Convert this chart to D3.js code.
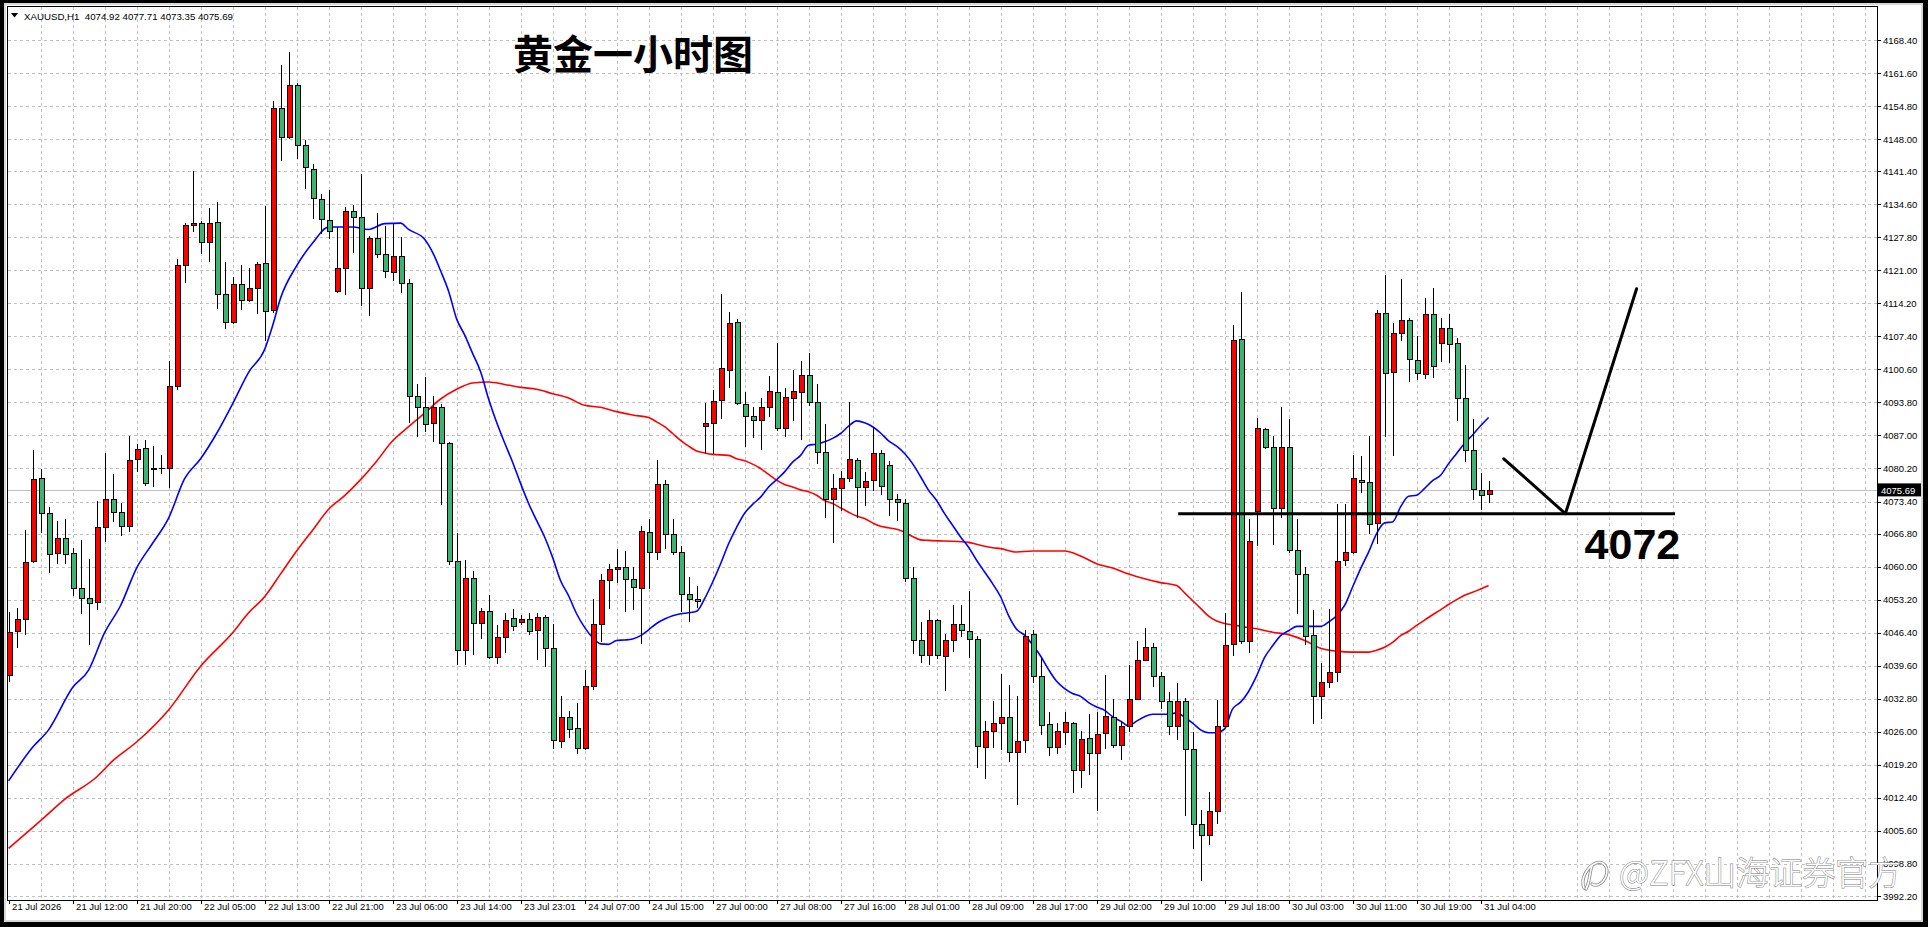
<!DOCTYPE html>
<html><head><meta charset="utf-8">
<script src="https://cdn.jsdelivr.net/npm/d3@7/dist/d3.min.js"></script>
<style>html,body{margin:0;padding:0;background:#000;overflow:hidden}</style>
</head><body>
<svg id="c" width="1928" height="927"></svg>
<script>
// ---------- DATA ----------
const symbolInfo = "XAUUSD,H1  4074.92 4077.71 4073.35 4075.69";
const title = "黄金一小时图";
const opens = [
4037.7,4046.7,4049.2,4061.1,4078.2,4071.0,4062.9,4065.8,4062.9,4055.6,
4053.5,4052.7,4068.2,4073.9,4071.3,4068.3,4082.2,4084.4,4080.0,4080.4,
4080.4,4097.2,4122.0,4130.3,4130.8,4126.9,4130.9,4116.2,4110.4,4118.2,
4114.8,4117.4,4122.4,4112.9,4154.3,4148.4,4159.2,4146.7,4141.9,4135.6,
4131.4,4116.7,4121.4,4133.3,4131.9,4117.4,4127.7,4124.4,4120.7,4123.9,
4118.4,4095.2,4092.9,4089.6,4092.9,4085.4,4061.2,4042.9,4057.6,4048.3,
4050.9,4041.3,4045.6,4049.4,4048.5,4049.2,4047.0,4049.6,4043.2,4024.1,
4029.1,4026.7,4022.6,4035.4,4048.2,4057.3,4059.5,4060.0,4057.4,4055.6,
4067.2,4063.0,4077.1,4066.8,4063.0,4054.3,4053.4,4089.0,4089.5,4094.3,
4100.5,4110.3,4093.4,4091.1,4090.1,4092.9,4095.9,4088.6,4094.8,4095.9,
4099.4,4093.8,4083.5,4074.0,4076.1,4078.3,4082.0,4076.4,4077.9,4083.3,
4081.0,4074.0,4073.0,4057.7,4044.9,4041.8,4049.0,4041.6,4044.9,4048.1,
4046.8,4045.1,4022.9,4026.1,4027.8,4029.0,4021.9,4024.4,4046.1,4037.4,
4027.7,4022.8,4026.0,4027.9,4018.1,4024.8,4021.6,4025.7,4029.1,4023.3,
4027.2,4032.8,4040.8,4043.5,4037.5,4032.4,4027.2,4032.4,4022.4,4007.1,
4004.7,4009.7,4027.2,4044.1,4106.8,4044.6,4071.5,4088.3,4084.6,4072.0,
4084.6,4063.5,4058.5,4045.9,4033.4,4036.2,4038.4,4061.4,4063.0,4077.9,
4077.5,4069.0,4112.2,4100.0,4108.1,4110.8,4102.5,4099.6,4112.0,4106.0,
4109.1,4106.0,4094.7,4084.1,4075.7,4074.92];
const highs = [
4050.7,4051.5,4067.6,4084.1,4080.0,4072.3,4069.4,4069.8,4063.8,4065.5,
4061.6,4073.5,4083.3,4079.0,4073.0,4086.8,4085.3,4086.1,4084.8,4082.9,
4102.4,4123.4,4130.8,4141.4,4131.2,4133.8,4135.1,4122.8,4119.7,4122.0,
4121.5,4122.8,4134.2,4155.9,4163.3,4166.0,4159.5,4147.9,4142.9,4136.8,
4137.5,4129.9,4134.0,4134.5,4140.8,4128.0,4132.7,4130.2,4130.6,4127.9,
4119.2,4097.5,4099.0,4095.1,4093.5,4085.7,4067.0,4061.3,4059.0,4051.4,
4054.1,4047.9,4050.5,4051.2,4050.1,4050.4,4050.5,4050.1,4048.1,4033.4,
4030.2,4031.9,4038.8,4053.4,4058.4,4060.6,4063.7,4063.2,4060.0,4068.4,
4069.9,4081.9,4077.9,4069.7,4064.3,4057.8,4056.1,4093.6,4096.3,4116.1,
4112.4,4110.9,4095.9,4092.9,4094.8,4099.2,4106.1,4096.7,4100.5,4102.3,
4104.0,4097.6,4089.3,4079.0,4079.7,4093.9,4082.4,4079.4,4088.8,4084.0,
4081.7,4074.9,4074.0,4060.0,4048.7,4051.0,4049.2,4046.1,4052.2,4052.2,
4054.9,4045.8,4028.3,4032.3,4037.9,4035.7,4033.3,4046.9,4046.9,4041.2,
4030.1,4027.8,4030.1,4028.0,4026.2,4029.6,4030.1,4037.6,4032.7,4028.2,
4039.8,4044.6,4047.3,4044.2,4038.3,4034.1,4036.1,4032.9,4026.0,4009.9,
4013.6,4032.5,4050.4,4109.7,4116.5,4069.9,4090.6,4088.5,4086.8,4092.9,
4090.4,4069.9,4059.9,4051.1,4040.2,4051.2,4072.8,4072.8,4083.0,4082.8,
4086.8,4112.8,4120.1,4110.2,4119.3,4111.2,4107.5,4115.3,4117.4,4111.2,
4111.9,4107.1,4101.6,4090.3,4079.2,4077.71];
const lows = [
4036.4,4043.5,4046.1,4061.0,4067.2,4058.9,4060.7,4060.7,4054.1,4050.5,
4044.0,4051.2,4065.2,4069.4,4066.5,4067.3,4079.7,4076.9,4076.5,4079.2,
4076.3,4096.6,4118.6,4129.0,4124.5,4122.9,4113.2,4109.1,4110.2,4113.0,
4114.6,4112.3,4106.6,4112.4,4143.8,4148.2,4144.1,4138.0,4131.7,4128.7,
4127.7,4116.6,4116.2,4124.7,4113.8,4111.7,4123.8,4119.7,4119.0,4116.6,
4089.7,4086.9,4088.0,4085.9,4072.9,4060.6,4039.9,4039.9,4042.0,4045.3,
4041.2,4040.1,4042.4,4047.0,4048.2,4046.1,4040.9,4039.6,4022.6,4022.8,
4025.0,4021.6,4022.5,4034.8,4044.6,4051.5,4056.8,4050.9,4051.2,4044.2,
4055.6,4061.5,4063.9,4062.6,4050.8,4048.9,4051.6,4083.6,4083.4,4090.5,
4096.9,4093.5,4084.8,4086.7,4084.2,4091.0,4088.2,4086.9,4090.1,4086.3,
4093.2,4081.3,4070.2,4065.0,4071.7,4077.6,4070.3,4072.6,4075.8,4075.0,
4070.6,4069.5,4057.1,4042.2,4040.3,4040.0,4041.2,4034.6,4042.6,4045.8,
4041.3,4018.8,4016.4,4022.8,4022.4,4020.0,4011.2,4021.9,4036.3,4025.6,
4021.2,4021.6,4023.4,4013.6,4014.6,4017.4,4009.9,4022.7,4022.9,4020.3,
4026.2,4032.7,4040.7,4035.4,4030.9,4025.6,4024.6,4008.9,4002.0,3995.5,
4003.0,4007.3,4027.1,4041.8,4044.2,4042.5,4064.4,4084.4,4064.6,4070.2,
4063.0,4050.4,4044.1,4027.9,4028.9,4035.3,4036.4,4060.3,4062.9,4075.4,
4066.9,4064.9,4086.9,4083.0,4106.6,4098.3,4098.7,4098.8,4099.0,4102.4,
4102.2,4090.2,4081.8,4074.0,4071.8,4073.35];
const closes = [
4046.6,4049.2,4060.9,4078.0,4071.1,4062.7,4065.8,4062.6,4055.6,4053.6,
4052.6,4068.2,4073.9,4071.3,4068.3,4081.9,4084.2,4077.3,4080.4,4080.3,
4097.2,4122.0,4130.4,4130.7,4126.9,4130.8,4116.2,4110.4,4118.2,4114.9,
4117.4,4122.3,4112.6,4154.3,4148.4,4159.1,4146.7,4142.2,4135.9,4131.5,
4129.1,4121.4,4133.1,4132.0,4117.4,4127.7,4124.4,4120.9,4123.9,4118.4,
4095.1,4092.9,4089.4,4092.8,4085.4,4061.1,4042.8,4057.6,4048.3,4050.9,
4041.3,4045.6,4049.1,4047.7,4049.2,4046.7,4049.6,4043.2,4024.3,4029.1,
4026.5,4022.6,4035.4,4048.2,4057.3,4059.5,4060.0,4057.4,4055.8,4067.4,
4063.0,4077.1,4066.8,4063.0,4054.3,4053.4,4052.9,4089.5,4094.1,4100.8,
4110.1,4093.6,4091.0,4090.1,4092.8,4096.1,4088.6,4095.0,4096.1,4099.4,
4093.8,4083.5,4074.0,4076.1,4078.3,4082.2,4076.3,4077.7,4083.3,4076.5,
4074.0,4073.2,4057.6,4044.9,4041.8,4049.0,4041.8,4044.9,4048.1,4047.0,
4045.1,4023.0,4026.1,4027.8,4029.0,4021.9,4024.2,4045.7,4037.4,4027.5,
4022.8,4026.2,4028.1,4018.1,4024.6,4021.6,4025.6,4029.3,4023.3,4027.1,
4032.8,4040.8,4043.5,4037.4,4032.3,4027.2,4032.4,4022.4,4007.1,4004.7,
4009.7,4027.2,4043.9,4106.6,4044.6,4065.2,4088.5,4084.6,4072.0,4084.6,
4063.5,4058.5,4045.8,4033.4,4036.2,4038.4,4061.2,4063.0,4078.2,4077.5,
4068.7,4112.2,4099.8,4108.1,4110.8,4102.7,4099.8,4112.0,4101.2,4109.1,
4105.8,4094.7,4084.1,4075.9,4074.8,4075.69];

// moving averages: [bar index, price]
const maFast = [[0,4015.9],[3,4022.8],[5,4026.4],[8,4035.1],[10,4038.7],[12,4046.4],[14,4052.0],[16,4059.7],[18,4064.8],[20,4070.0],[22,4078.1],[24,4082.2],[26,4087.4],[28,4093.5],[30,4100.0],[32,4104.7],[33,4109.6],[34,4115.3],[36,4121.9],[38,4126.6],[40,4129.9],[43,4129.9],[45,4129.4],[47,4130.6],[49,4130.7],[50,4129.4],[52,4127.4],[53,4124.7],[54,4120.9],[55,4116.7],[56,4111.0],[57,4107.7],[58,4103.9],[59,4100.1],[60,4094.5],[61,4089.7],[62,4085.5],[63,4081.5],[64,4077.1],[65,4073.0],[66,4069.5],[67,4066.1],[68,4061.9],[69,4057.1],[70,4054.0],[71,4050.3],[72,4047.5],[73,4045.4],[74,4044.1],[75,4044.0],[76,4044.8],[77,4044.9],[78,4045.1],[79,4045.8],[80,4047.0],[81,4048.3],[82,4049.2],[83,4049.9],[84,4050.3],[85,4050.5],[86,4050.8],[87,4053.4],[88,4056.8],[89,4060.6],[90,4064.7],[91,4068.1],[92,4071.0],[93,4072.8],[94,4074.3],[95,4076.4],[96,4077.9],[97,4079.5],[98,4081.5],[99,4082.9],[100,4085.0],[101,4085.2],[102,4085.7],[103,4086.4],[104,4087.4],[105,4088.9],[106,4090.0],[107,4089.6],[108,4088.8],[109,4087.5],[110,4085.9],[111,4084.8],[112,4083.3],[113,4081.2],[114,4078.5],[115,4075.7],[116,4073.6],[117,4070.9],[118,4068.5],[119,4066.1],[120,4064.0],[121,4061.3],[122,4058.9],[123,4056.5],[124,4053.8],[125,4049.9],[126,4047.1],[127,4045.9],[128,4043.9],[129,4041.6],[130,4038.8],[131,4036.4],[132,4034.9],[133,4033.9],[134,4033.3],[135,4032.0],[136,4031.1],[137,4030.4],[138,4029.1],[139,4028.2],[140,4027.2],[141,4028.2],[142,4029.1],[143,4029.6],[145,4029.6],[146,4029.9],[147,4029.0],[148,4027.8],[149,4026.4],[150,4025.8],[151,4025.8],[152,4026.6],[153,4030.7],[154,4032.1],[155,4034.3],[156,4037.5],[157,4041.3],[158,4043.7],[159,4045.8],[160,4046.8],[161,4047.7],[164,4047.7],[165,4048.6],[166,4049.9],[167,4052.0],[168,4055.8],[169,4059.6],[170,4063.0],[171,4066.8],[172,4069.0],[173,4069.2],[174,4072.3],[175,4074.5],[176,4074.7],[177,4076.1],[178,4077.7],[179,4078.8],[180,4081.2],[181,4083.3],[182,4085.4],[183,4087.1],[184,4089.0],[185,4090.7]];
const maSlow = [[0,4002.0],[4,4007.7],[7,4012.1],[11,4016.7],[13,4020.0],[16,4023.9],[20,4030.5],[24,4039.5],[28,4046.4],[30,4050.5],[32,4053.8],[34,4058.5],[36,4063.2],[38,4067.5],[40,4071.8],[42,4074.6],[44,4077.9],[46,4081.7],[48,4085.9],[50,4088.8],[52,4091.6],[54,4094.5],[56,4096.5],[58,4097.8],[60,4098.0],[62,4097.5],[64,4096.9],[66,4096.5],[68,4095.6],[70,4094.7],[72,4093.2],[74,4092.8],[76,4091.9],[78,4091.2],[80,4090.7],[81,4089.8],[82,4088.8],[83,4087.4],[84,4086.0],[85,4084.8],[86,4083.8],[87,4083.4],[88,4083.1],[90,4082.9],[91,4082.2],[92,4081.8],[93,4081.1],[94,4080.2],[95,4079.0],[96,4077.8],[97,4076.9],[98,4076.4],[99,4075.8],[100,4075.4],[101,4074.7],[102,4073.6],[103,4073.0],[104,4072.1],[105,4071.2],[106,4070.4],[107,4069.9],[108,4069.0],[109,4068.3],[110,4068.0],[111,4067.7],[112,4067.1],[113,4066.2],[114,4065.5],[115,4065.4],[120,4065.0],[121,4064.6],[122,4064.2],[123,4063.9],[124,4063.7],[126,4063.0],[128,4063.2],[132,4063.2],[134,4062.2],[136,4060.6],[138,4059.7],[140,4058.5],[142,4057.5],[144,4056.7],[146,4056.1],[147,4054.6],[148,4053.0],[149,4051.4],[150,4049.8],[151,4048.8],[152,4048.3],[153,4048.0],[154,4047.7],[156,4047.2],[158,4046.5],[160,4046.0],[162,4044.8],[164,4043.2],[166,4042.6],[168,4042.4],[170,4042.4],[171,4042.8],[172,4043.4],[173,4044.4],[174,4045.8],[175,4046.7],[176,4047.9],[177,4049.0],[178,4050.1],[179,4051.1],[180,4052.2],[181,4053.2],[182,4054.1],[183,4054.7],[184,4055.4],[185,4056.1]];

const priceTicks = ["4168.40","4161.60","4154.80","4148.00","4141.40","4134.60","4127.80","4121.00","4114.20","4107.40","4100.60","4093.80","4087.00","4080.20","4073.40","4066.80","4060.00","4053.20","4046.40","4039.60","4032.80","4026.00","4019.20","4012.40","4005.60","3998.80","3992.20"];
const timeTickIdx = [0,8,16,24,32,40,48,56,64,72,80,88,96,104,112,120,128,136,144,152,160,168,176,184];
const timeTickLabels = ["21 Jul 2026","21 Jul 12:00","21 Jul 20:00","22 Jul 05:00","22 Jul 13:00","22 Jul 21:00","23 Jul 06:00","23 Jul 14:00","23 Jul 23:01","24 Jul 07:00","24 Jul 15:00","27 Jul 00:00","27 Jul 08:00","27 Jul 16:00","28 Jul 01:00","28 Jul 09:00","28 Jul 17:00","29 Jul 02:00","29 Jul 10:00","29 Jul 18:00","30 Jul 03:00","30 Jul 11:00","30 Jul 19:00","31 Jul 04:00"];
const lastPrice = 4075.69;
// hand-drawn annotations (bar index, price)
const supportLine = [[146.2,4070.9],[208.3,4070.9]];
const pathArrow = [[186.9,4082.2],[194.6,4070.9],[203.5,4117.2]];
const supportLabel = {text:"4072", idx:197.0, price:4061.6};
const watermark = "@ZFX山海证券官方";

// ---------- LAYOUT ----------
const W = 1928, H = 927;
const plot = {l:7.5, t:6.5, r:1877, b:900};
const svg = d3.select("#c");
const x = d3.scaleLinear().domain([0, 233.5]).range([8.6, 1876.6]);
const y = d3.scaleLinear().domain([4168.4, 3992.2]).range([40, 896]);
const cx = i => Math.round(x(i)) + 0.5;
const cy = p => Math.round(y(p)) + 0.5;

// window frame
svg.append("rect").attr("width",W).attr("height",H).attr("fill","#000");
svg.append("rect").attr("x",4).attr("y",3).attr("width",1919).attr("height",919).attr("fill","#d8d8d8");
svg.append("rect").attr("x",6).attr("y",5).attr("width",1915).attr("height",915).attr("fill","#fff");

const clip = svg.append("defs").append("clipPath").attr("id","pc");
clip.append("rect").attr("x",plot.l).attr("y",plot.t).attr("width",plot.r-plot.l).attr("height",plot.b-plot.t);

const g = svg.append("g").attr("clip-path","url(#pc)");

// grid
const vIdx = d3.range(4, 234, 4);
g.append("g").selectAll("line").data(vIdx).join("line")
  .attr("x1",d=>cx(d)).attr("x2",d=>cx(d)).attr("y1",plot.t).attr("y2",plot.b)
  .attr("stroke","#c0c0c0").attr("stroke-dasharray","3,3").attr("shape-rendering","crispEdges");
g.append("g").selectAll("line").data(priceTicks).join("line")
  .attr("x1",plot.l).attr("x2",plot.r).attr("y1",d=>cy(+d)).attr("y2",d=>cy(+d))
  .attr("stroke","#c0c0c0").attr("stroke-dasharray","3,3").attr("shape-rendering","crispEdges");

// last price line
g.append("line").attr("x1",plot.l).attr("x2",plot.r).attr("y1",cy(lastPrice)).attr("y2",cy(lastPrice))
  .attr("stroke","#c0c0c0").attr("shape-rendering","crispEdges");

// moving averages
const line = d3.line().x(d=>x(d[0])).y(d=>y(d[1])).curve(d3.curveMonotoneX);
g.append("path").datum(maSlow).attr("d",line).attr("fill","none").attr("stroke","#ff0000").attr("stroke-width",1.6);
g.append("path").datum(maFast).attr("d",line).attr("fill","none").attr("stroke","#0000ff").attr("stroke-width",1.6);

// candles
const bars = d3.range(opens.length).map(i=>({i,o:opens[i],h:highs[i],l:lows[i],c:closes[i]}));
const cg = g.append("g").attr("shape-rendering","crispEdges");
cg.selectAll("line.w").data(bars).join("line").attr("class","w")
  .attr("x1",d=>cx(d.i)).attr("x2",d=>cx(d.i))
  .attr("y1",d=>Math.round(y(d.h))).attr("y2",d=>Math.round(y(d.l))+1)
  .attr("stroke","#000");
cg.selectAll("rect.b").data(bars).join("rect").attr("class","b")
  .attr("x",d=>cx(d.i)-2.5)
  .attr("width",5)
  .attr("y",d=>Math.round(y(Math.max(d.o,d.c)))+0.5)
  .attr("height",d=>Math.max(0.01, Math.round(y(Math.min(d.o,d.c))) - Math.round(y(Math.max(d.o,d.c)))))
  .attr("fill",d=>d.c>d.o?"#ff0000":(d.c<d.o?"#3cb371":"#000"))
  .attr("stroke","#000").attr("stroke-width",1);

// hand-drawn annotations
g.append("path").datum(supportLine).attr("d",d3.line().x(d=>x(d[0])).y(d=>y(d[1])))
  .attr("stroke","#000").attr("stroke-width",3).attr("fill","none");
g.append("path").datum(pathArrow).attr("d",d3.line().x(d=>x(d[0])).y(d=>y(d[1])))
  .attr("stroke","#000").attr("stroke-width",3).attr("fill","none").attr("stroke-linecap","round").attr("stroke-linejoin","round");
g.append("text").attr("x",x(supportLabel.idx)).attr("y",y(supportLabel.price))
  .attr("font-family","Liberation Sans, Arial, sans-serif").attr("font-weight","bold").attr("font-size",43)
  .attr("fill","#000").text(supportLabel.text);

// title
g.append("text").attr("x",x(63.05)).attr("y",y(4162.4))
  .attr("font-family","'Noto Sans CJK SC', sans-serif").attr("font-weight","bold").attr("font-size",40)
  .attr("fill","#000").text(title);

// header
svg.append("path").attr("d","M11,13 L18,13 L14.5,17.5 Z").attr("fill","#000");
svg.append("text").attr("x",24).attr("y",19.5).attr("font-family","Liberation Sans, Arial, sans-serif")
  .attr("font-size",9.7).attr("fill","#000").attr("xml:space","preserve").style("white-space","pre").text(symbolInfo);

// plot border
svg.append("rect").attr("x",plot.l).attr("y",plot.t).attr("width",plot.r-plot.l).attr("height",plot.b-plot.t+0.5)
  .attr("fill","none").attr("stroke","#000").attr("shape-rendering","crispEdges");

// right price axis
const ya = svg.append("g").attr("transform",`translate(${plot.r},0)`)
  .call(d3.axisRight(y).tickValues(priceTicks.map(Number)).tickFormat((d,i)=>priceTicks[i]).tickSize(4).tickPadding(2));
ya.select(".domain").remove();
ya.selectAll("line").attr("stroke","#000").attr("shape-rendering","crispEdges");
ya.selectAll("text").attr("font-family","Liberation Sans, Arial, sans-serif").attr("font-size",9.5).attr("fill","#000");

// last price label
svg.append("rect").attr("x",plot.r+1).attr("y",y(lastPrice)-7).attr("width",43).attr("height",13).attr("fill","#000");
svg.append("text").attr("x",plot.r+4).attr("y",y(lastPrice)+3.5).attr("font-family","Liberation Sans, Arial, sans-serif")
  .attr("font-size",9.5).attr("fill","#fff").text(lastPrice.toFixed(2));

// bottom time axis
const xa = svg.append("g").attr("transform",`translate(0,${plot.b})`)
  .call(d3.axisBottom(x).tickValues(timeTickIdx).tickFormat((d,i)=>timeTickLabels[i]).tickSize(4).tickPadding(0));
xa.select(".domain").remove();
xa.selectAll("line").attr("stroke","#000").attr("shape-rendering","crispEdges");
xa.selectAll("text").attr("text-anchor","start").attr("dx",3).attr("dy",0).attr("y",2.5)
  .attr("dominant-baseline","hanging")
  .attr("font-family","Liberation Sans, Arial, sans-serif").attr("font-size",9.5).attr("fill","#000");

// watermark
const wm = svg.append("g");
wm.append("path").attr("d","M1584,888 C1580,878 1588,866 1596,863 C1604,860 1609,868 1606,876 C1603,884 1596,887 1592,884 M1592,866 C1589,874 1590,882 1586,889")
  .attr("fill","none").attr("stroke","#888").attr("stroke-width",3.2).attr("stroke-linecap","round");
wm.append("path").attr("d","M1584,888 C1580,878 1588,866 1596,863 C1604,860 1609,868 1606,876 C1603,884 1596,887 1592,884 M1592,866 C1589,874 1590,882 1586,889")
  .attr("fill","none").attr("stroke","#fff").attr("stroke-width",1.6).attr("stroke-linecap","round");
wm.append("text").attr("x",1619).attr("y",885)
  .attr("font-family","'Noto Sans CJK SC', sans-serif").attr("font-weight",300).attr("font-size",33)
  .attr("fill","#fff").attr("stroke","#7a7a7a").attr("stroke-width",1).attr("paint-order","stroke")
  .text(watermark);
</script>
</body></html>
